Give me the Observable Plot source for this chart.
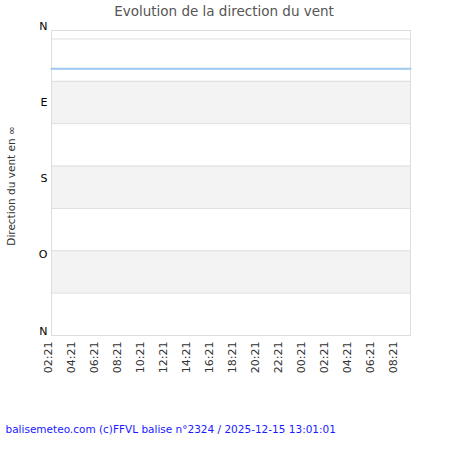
<!DOCTYPE html>
<html>
<head>
<meta charset="utf-8">
<script src="https://cdn.jsdelivr.net/npm/d3@7"></script>
<script src="https://cdn.jsdelivr.net/npm/@observablehq/plot@0.6"></script>
<style>
  body { margin: 0; background: #fff; }
  svg { font-family: "DejaVu Sans", sans-serif; }
</style>
</head>
<body>
<div id="chart"></div>
<script>
// Readings (UTC-based timestamps) and wind direction in degrees
const readingTimes = [
  "2025-12-14T02:21Z","2025-12-14T03:21Z","2025-12-14T04:21Z","2025-12-14T05:21Z",
  "2025-12-14T06:21Z","2025-12-14T07:21Z","2025-12-14T08:21Z","2025-12-14T09:21Z",
  "2025-12-14T10:21Z","2025-12-14T11:21Z","2025-12-14T12:21Z","2025-12-14T13:21Z",
  "2025-12-14T14:21Z","2025-12-14T15:21Z","2025-12-14T16:21Z","2025-12-14T17:21Z",
  "2025-12-14T18:21Z","2025-12-14T19:21Z","2025-12-14T20:21Z","2025-12-14T21:21Z",
  "2025-12-14T22:21Z","2025-12-14T23:21Z","2025-12-15T00:21Z","2025-12-15T01:21Z",
  "2025-12-15T02:21Z","2025-12-15T03:21Z","2025-12-15T04:21Z","2025-12-15T05:21Z",
  "2025-12-15T06:21Z","2025-12-15T07:21Z","2025-12-15T08:21Z","2025-12-15T09:29Z"
];
const directions = [
  315,315,315,315,315,315,315,315,315,315,315,315,315,315,315,315,
  315,315,315,315,315,315,315,315,315,315,315,315,315,315,315,315
];

// X tick positions and labels
const tickTimes = [
  "2025-12-14T02:21Z","2025-12-14T04:21Z","2025-12-14T06:21Z","2025-12-14T08:21Z",
  "2025-12-14T10:21Z","2025-12-14T12:21Z","2025-12-14T14:21Z","2025-12-14T16:21Z",
  "2025-12-14T18:21Z","2025-12-14T20:21Z","2025-12-14T22:21Z","2025-12-15T00:21Z",
  "2025-12-15T02:21Z","2025-12-15T04:21Z","2025-12-15T06:21Z","2025-12-15T08:21Z"
];
const tickLabels = ["02:21","04:21","06:21","08:21","10:21","12:21","14:21","16:21",
  "18:21","20:21","22:21","00:21","02:21","04:21","06:21","08:21"];

// Y axis: gridlines, shaded bands, compass labels (bottom to top)
const gridValues = [0, 50, 100, 150, 200, 250, 300, 350];
const bandStarts = [50, 150, 250];
const bandEnds = [100, 200, 300];
const compassValues = [0, 90, 180, 270, 360];
const compassLabels = ["N", "O", "S", "E", "N"];

const title = "Evolution de la direction du vent";
const yTitle = "Direction du vent en ∞";
const footer = "balisemeteo.com (c)FFVL balise n°2324 / 2025-12-15 13:01:01";

const series = readingTimes.map((t, i) => ({t: new Date(t), v: directions[i]}));
const ticks = tickTimes.map((t, i) => ({t: new Date(t), label: tickLabels[i]}));
const bands = bandStarts.map((s, i) => ({y1: s, y2: bandEnds[i]}));
const compass = compassValues.map((v, i) => ({v, label: compassLabels[i]}));

const chart = Plot.plot({
  width: 450,
  height: 450,
  marginLeft: 51,
  marginRight: 40,
  marginTop: 30,
  marginBottom: 115,
  style: {fontFamily: "DejaVu Sans, sans-serif", background: "#fff"},
  x: {type: "utc", domain: [new Date(readingTimes[0]), new Date(readingTimes[readingTimes.length - 1])], axis: null},
  y: {domain: [0, 360], axis: null},
  marks: [
    Plot.rectY(bands, {y1: "y1", y2: "y2", fill: "#f3f3f3"}),
    Plot.ruleY(gridValues, {stroke: "#dddddd", strokeWidth: 1}),
    Plot.frame({stroke: "#dddddd", strokeWidth: 1}),
    Plot.line(series, {x: "t", y: "v", stroke: "#9cc8f2", strokeWidth: 2}),
    Plot.text(compass, {
      y: "v", text: "label", frameAnchor: "left", dx: -4, dy: -1,
      textAnchor: "end", lineAnchor: "bottom", fontSize: 11, fill: "#000"
    }),
    Plot.text(ticks, {
      x: "t", text: "label", frameAnchor: "bottom", dy: 6,
      rotate: -90, textAnchor: "end", fontSize: 11, fill: "#333"
    }),
    Plot.text([yTitle], {
      frameAnchor: "left", dx: -40, dy: 3, rotate: -90, textAnchor: "middle",
      fontSize: 10.5, fill: "#333"
    }),
    Plot.text([title], {
      frameAnchor: "top", dy: -24, dx: -7, fontSize: 13.5, fill: "#555"
    }),
    Plot.text([footer], {
      frameAnchor: "bottom-left", dx: -46, dy: 97, textAnchor: "start",
      fontSize: 10.5, fill: "#1a1aff"
    })
  ]
});
document.getElementById("chart").appendChild(chart);
</script>
</body>
</html>
